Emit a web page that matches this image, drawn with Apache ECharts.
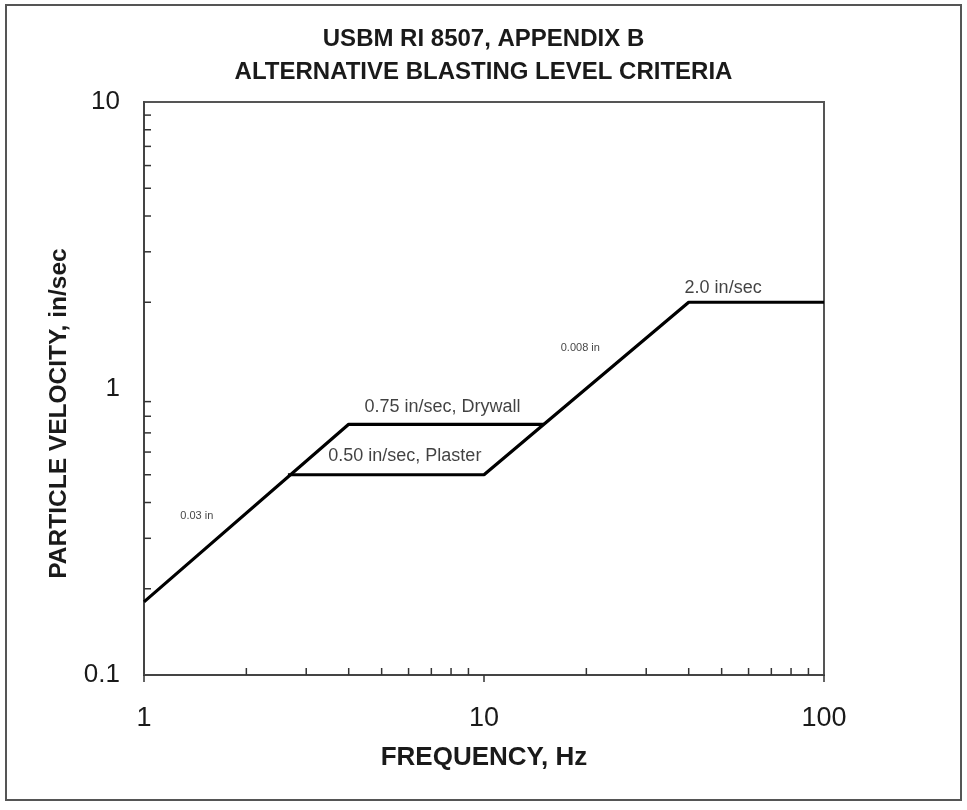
<!DOCTYPE html>
<html>
<head>
<meta charset="utf-8">
<script src="https://cdn.jsdelivr.net/npm/echarts@6/dist/echarts.min.js"></script>
<style>html,body{margin:0;padding:0;background:#fff;}#c{width:967px;height:810px;}</style>
</head>
<body>
<div id="c"></div>
<script>
// Data (frequency in Hz, particle velocity in in/sec)
const titleLines = ['USBM RI 8507, APPENDIX B', 'ALTERNATIVE BLASTING LEVEL CRITERIA'];
const xAxisName = 'FREQUENCY, Hz';
const yAxisName = 'PARTICLE VELOCITY, in/sec';
const xRange = [1, 100];
const yRange = [0.1, 10];
// 0.03 in displacement line, then 0.75 in/sec drywall plateau
const drywallFreq = [1, 4, 15];
const drywallVel = [0.18, 0.75, 0.75];
// 0.50 in/sec plaster plateau, 0.008 in displacement line, 2.0 in/sec plateau
const plasterFreq = [2.65, 10, 40, 100];
const plasterVel = [0.5, 0.5, 2.0, 2.0];
// Annotations anchored at data coordinates
const noteText = ['0.75 in/sec, Drywall', '0.50 in/sec, Plaster', '0.03 in', '0.008 in', '2.0 in/sec'];
const noteFreq = [7.55, 5.85, 1.43, 19.2, 50.5];
const noteVel = [0.86, 0.58, 0.36, 1.38, 2.25];
const noteSize = [18, 18, 11, 11, 18];
// Minor tick values
const xMinorTicks = [2, 3, 4, 5, 6, 7, 8, 9, 20, 30, 40, 50, 60, 70, 80, 90];
const yMinorTicks = [0.2, 0.3, 0.4, 0.5, 0.6, 0.7, 0.8, 0.9, 2, 3, 4, 5, 6, 7, 8, 9];

const FONT = '"Liberation Sans", Arial, sans-serif';
const chart = echarts.init(document.getElementById('c'), null, {renderer: 'canvas'});

function zip(a, b) { return a.map((v, i) => [v, b[i]]); }

const tickStroke = {stroke: '#333', lineWidth: 1.5};

const option = {
  animation: false,
  backgroundColor: '#ffffff',
  title: {
    text: titleLines.join('\n'),
    left: 'center',
    top: 18,
    textStyle: {fontFamily: FONT, fontWeight: 'bold', fontSize: 24, lineHeight: 33, color: '#1a1a1a'}
  },
  graphic: [{
    type: 'rect',
    shape: {x: 6, y: 5, width: 955, height: 795},
    style: {fill: 'none', stroke: '#555', lineWidth: 2},
    silent: true, z: -1
  }],
  grid: {
    left: 144, right: 143, top: 102, bottom: 135,
    show: true, borderColor: '#555', borderWidth: 2, backgroundColor: 'transparent'
  },
  xAxis: {
    type: 'log', logBase: 10, min: xRange[0], max: xRange[1],
    name: xAxisName, nameLocation: 'middle', nameGap: 70,
    nameTextStyle: {fontFamily: FONT, fontWeight: 'bold', fontSize: 26, color: '#1a1a1a'},
    axisLine: {show: true, lineStyle: {color: '#444', width: 2}},
    axisTick: {show: true, inside: false, length: 7, lineStyle: {color: '#333', width: 1.5}},
    axisLabel: {fontFamily: FONT, fontSize: 27, color: '#1a1a1a', margin: 30},
    splitLine: {show: false}
  },
  yAxis: {
    type: 'log', logBase: 10, min: yRange[0], max: yRange[1],
    name: yAxisName, nameLocation: 'middle', nameGap: 72, nameRotate: 90,
    nameTextStyle: {fontFamily: FONT, fontWeight: 'bold', fontSize: 24.5, color: '#1a1a1a',
      padding: [0, 50, 0, 0]},
    axisLine: {show: true, lineStyle: {color: '#444', width: 2}},
    axisTick: {show: false},
    axisLabel: {fontFamily: FONT, fontSize: 26, color: '#1a1a1a', margin: 24,
      formatter: v => String(v)},
    splitLine: {show: false}
  },
  series: [
    {
      type: 'line', data: zip(drywallFreq, drywallVel), symbol: 'none',
      lineStyle: {color: '#000', width: 3.2}, z: 5, silent: true
    },
    {
      type: 'line', data: zip(plasterFreq, plasterVel), symbol: 'none',
      lineStyle: {color: '#000', width: 3.2}, z: 5, silent: true
    },
    {
      type: 'scatter', symbolSize: 0, silent: true, z: 6,
      data: noteText.map((t, i) => ({
        value: [noteFreq[i], noteVel[i]],
        label: {show: true, position: 'inside', formatter: t, fontFamily: FONT,
          fontSize: noteSize[i], color: '#111'}
      }))
    },
    {
      type: 'custom', silent: true, clip: false, z: 4,
      data: xMinorTicks.map(v => [v, yRange[0]]),
      renderItem: (params, api) => {
        const p = api.coord([api.value(0), api.value(1)]);
        return {type: 'line', shape: {x1: p[0], y1: p[1], x2: p[0], y2: p[1] - 7}, style: tickStroke};
      }
    },
    {
      type: 'custom', silent: true, clip: false, z: 4,
      data: yMinorTicks.map(v => [xRange[0], v]),
      renderItem: (params, api) => {
        const p = api.coord([api.value(0), api.value(1)]);
        return {type: 'line', shape: {x1: p[0], y1: p[1], x2: p[0] + 7, y2: p[1]}, style: tickStroke};
      }
    }
  ]
};
chart.setOption(option);
</script>
</body>
</html>
